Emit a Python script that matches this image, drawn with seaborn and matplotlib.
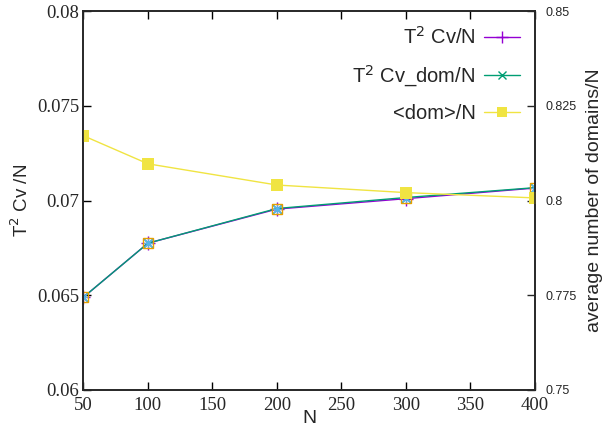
import matplotlib
matplotlib.use("Agg")
import matplotlib.pyplot as plt
import seaborn as sns
import pandas as pd

N = [50, 100, 200, 300, 400]
cv = [0.0649, 0.06775, 0.06955, 0.07010, 0.07066]
cv_dom = [0.0649, 0.06775, 0.06958, 0.07016, 0.07068]
cv_extra_a = [0.0649, 0.06775, 0.06955, 0.07012, 0.07066]
cv_extra_b = [0.0649, 0.06775, 0.06957, 0.07014, 0.07068]
dom = [0.8171, 0.8097, 0.8041, 0.8021, 0.8007]

PURPLE = "#9400d3"
GREEN = "#009e73"
BLUE = "#56b4e9"
ORANGE = "#e69f00"
YELLOW = "#f0e442"

sns.set_style("ticks")
plt.rcParams["font.family"] = ["Liberation Sans", "DejaVu Sans"]

df = pd.DataFrame({"N": N, "cv": cv, "cv_dom": cv_dom, "a": cv_extra_a, "b": cv_extra_b, "dom": dom})

fig = plt.figure(figsize=(6.05, 4.29), dpi=100)
ax = fig.add_axes([0.138, 0.091, 0.746, 0.883])
ax2 = ax.twinx()

# data series on the left axis
sns.lineplot(data=df, x="N", y="cv", ax=ax, color=PURPLE, marker="+", markersize=10,
             markeredgecolor=PURPLE, markeredgewidth=1.0, linewidth=1.0, label="T$^2$ Cv/N")
sns.lineplot(data=df, x="N", y="cv_dom", ax=ax, color=GREEN, marker="x", markersize=7,
             markeredgecolor=GREEN, markeredgewidth=1.0, linewidth=1.0, label="T$^2$ Cv_dom/N")
# untitled overlay points
sns.lineplot(data=df, x="N", y="a", ax=ax, color=BLUE, marker=(8, 2, 0), markersize=8,
             markeredgecolor=BLUE, markeredgewidth=0.8, linewidth=0, legend=False)
sns.lineplot(data=df, x="N", y="b", ax=ax, color=ORANGE, marker="s", markersize=7.5,
             markerfacecolor="none", markeredgecolor=ORANGE, markeredgewidth=1.0,
             linewidth=0, legend=False)
# right axis
sns.lineplot(data=df, x="N", y="dom", ax=ax2, color=YELLOW, marker="s", markersize=8,
             markeredgecolor=YELLOW, markeredgewidth=0, linewidth=1.0, label="<dom>/N")

ax.set_xlim(50, 400)
ax.set_ylim(0.06, 0.08)
ax2.set_ylim(0.75, 0.85)
ax.set_xticks([50, 100, 150, 200, 250, 300, 350, 400])
ax.set_yticks([0.06, 0.065, 0.07, 0.075, 0.08])
ax.set_yticklabels(["0.06", "0.065", "0.07", "0.075", "0.08"])
ax2.set_yticks([0.75, 0.775, 0.8, 0.825, 0.85])
ax2.set_yticklabels(["0.75", "0.775", "0.8", "0.825", "0.85"])

for lab in ax.get_xticklabels() + ax.get_yticklabels():
    lab.set_family("Liberation Serif")
    lab.set_fontsize(13.5)
for lab in ax2.get_yticklabels():
    lab.set_fontsize(9)

ax.tick_params(axis="both", direction="in", length=6, width=1, color="black")
ax.tick_params(axis="x", top=True, pad=5)
ax.tick_params(axis="y", pad=3)
ax2.tick_params(axis="y", direction="in", length=6, width=1, pad=8)
for sp in ax.spines.values():
    sp.set_linewidth(1.2)
for sp in ax2.spines.values():
    sp.set_linewidth(1.2)

ax.set_xlabel("N", fontsize=14, labelpad=-3)
ax.set_ylabel("T$^2$ Cv /N", fontsize=13.5, labelpad=4)
ax2.set_ylabel("average number of domains/N", fontsize=14)
ax2.yaxis.label.set_ha("center")
ax2.yaxis.label.set_va("center")
ax2.yaxis.set_label_coords((595 - 83.5) / 451.5, 0.5)

h1, l1 = ax.get_legend_handles_labels()
h2, l2 = ax2.get_legend_handles_labels()
if ax2.get_legend():
    ax2.get_legend().remove()
ax.legend(h1 + h2, l1 + l2, loc="upper right", frameon=False, markerfirst=False,
          fontsize=14.5, handlelength=1.75, handletextpad=0.45, labelspacing=0.75,
          borderaxespad=0.35, borderpad=0.4, markerscale=0.9)

fig.savefig("out.png", dpi=100)
